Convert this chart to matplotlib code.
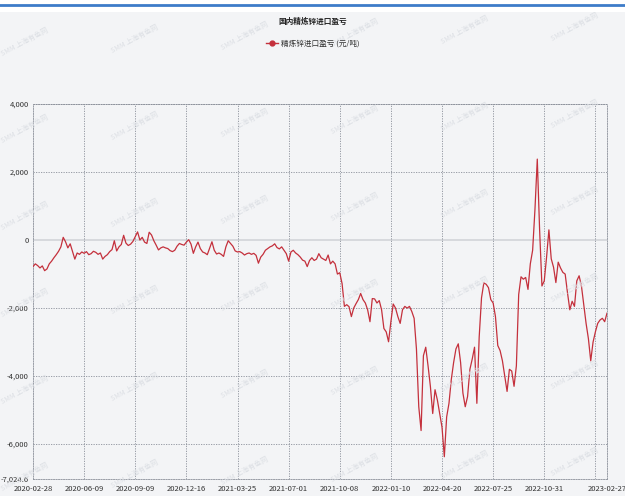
import matplotlib.pyplot as plt
from matplotlib.lines import Line2D
from matplotlib.patches import Rectangle

plt.rcParams['font.family'] = ['Noto Sans CJK SC', 'DejaVu Sans']

# 进口盈亏 (元/吨), one value every ~3 trading days
profit = [
    -780, -700, -750, -820, -760, -900, -850, -700, -620, -520,
    -430, -330, -200, 80, -50, -230, -110, -330, -560, -380,
    -420, -350, -390, -340, -430, -400, -330, -360, -420, -380,
    -560, -480, -430, -340, -280, -20, -320, -200, -130, 140,
    -90, -160, -120, -40, 100, 240, 0, 80, -60, -100,
    230, 150, -20, -150, -290, -230, -200, -230, -250, -310,
    -340, -300, -180, -100, -130, -150, -60, 10, -120, -390,
    -200, -60, -250, -350, -380, -430, -240, -50, -300, -410,
    -380, -420, -480, -200, -20, -100, -180, -320, -350, -340,
    -380, -440, -400, -380, -420, -390, -450, -680, -500, -420,
    -300, -250, -200, -170, -110, -220, -260, -200, -300, -400,
    -620, -350, -300, -380, -430, -500, -590, -620, -780, -600,
    -520, -600, -560, -400, -520, -560, -600, -440, -700, -620,
    -700, -1000, -960, -1280, -1950, -1900, -1960, -2250, -2000, -1870,
    -1750, -1570, -1750, -1850, -2050, -2400, -1720, -1730, -1850, -1780,
    -2050, -2600, -2700, -2990, -2400, -1880, -2000, -2250, -2450, -2050,
    -1950, -2000, -1950, -2100, -2300, -3200, -4900, -5600, -3400, -3150,
    -3700, -4300, -5100, -4400, -4700, -5100, -5500, -6370, -5200, -4800,
    -4100, -3600, -3200, -3050, -3600, -4500, -4900, -4600, -3800, -3500,
    -3150, -4800, -2850, -1700, -1260, -1300, -1400, -1750, -1850, -2250,
    -3100, -3250, -3550, -4000, -4450, -3800, -3850, -4300, -3700, -1600,
    -1080, -1150, -1100, -1450, -700, -300, 900, 2380, 300, -1350,
    -1200, -500, 300, -550, -800, -1250, -650, -820, -950, -1000,
    -1550, -2050, -1800, -1950, -1200, -1050, -1350, -1900, -2450, -2900,
    -3550, -3000, -2700, -2450, -2350, -2300, -2400, -2150,
]

date_labels = ['2020-02-28', '2020-06-09', '2020-09-09', '2020-12-16', '2021-03-25',
               '2021-07-01', '2021-10-08', '2022-01-10', '2022-04-20', '2022-07-25',
               '2022-10-31']
last_label = '2023-02-27'
y_ticks = [4000, 2000, 0, -2000, -4000, -6000, -7024.6]
y_labels = ['4,000', '2,000', '0', '-2,000', '-4,000', '-6,000', '-7,024.6']

W, H = 625, 496
bg = '#f3f4f6'
red = '#c4303c'
grid_c = '#8a8f99'

fig = plt.figure(figsize=(W / 100, H / 100), dpi=100)
fig.patch.set_facecolor(bg)

# white header strip with blue rule
fig.add_artist(Rectangle((0, 1 - 12 / H), 1, 12 / H, transform=fig.transFigure,
                         facecolor='white', edgecolor='none'))
fig.add_artist(Line2D([0, 1], [1 - 5 / H, 1 - 5 / H], transform=fig.transFigure,
                      color='#3d7cc9', linewidth=2))

ax = fig.add_axes([33 / W, 1 - 479 / H, 574 / W, 375 / H])
ax.set_facecolor(bg)

x = list(range(len(profit)))
step = 22
tick_pos = [i * step for i in range(len(date_labels))]

# grid lines
for yt in y_ticks[:-1]:
    if yt == 0:
        ax.axhline(0, color='#d2d4d8', linewidth=1.2, zorder=1)
    else:
        ax.axhline(yt, color=grid_c, linewidth=0.6, linestyle=(0, (1.5, 1.5)), zorder=1)
for xt in tick_pos[1:] + [len(date_labels) * step]:
    ax.axvline(xt, color=grid_c, linewidth=0.6, linestyle=(0, (1.5, 1.5)), zorder=1)

ax.plot(x, profit, color=red, linewidth=0.9, zorder=3, label='精炼锌进口盈亏 (元/吨)')

ax.set_xlim(0, len(profit) - 1)
ax.set_ylim(-7024.6, 4000)
ax.set_xticks(tick_pos + [len(profit) - 1])
ax.set_xticklabels(date_labels + [last_label])
ax.set_yticks(y_ticks)
ax.set_yticklabels(y_labels)
ax.tick_params(length=0, labelsize=5.5, colors='#333333')
ax.tick_params(axis='x', pad=4)
ax.tick_params(axis='y', pad=3)

for s in ax.spines.values():
    s.set_color(grid_c)
    s.set_linewidth(0.6)
    s.set_linestyle((0, (1.5, 1.5)))

# watermarks
for row in range(6):
    for col in range(6):
        wx = 25 + col * 110
        wy = 42 + row * 87 - col * 3
        fig.text(wx / W, 1 - wy / H, 'SMM 上海有色网', fontsize=5, color='#dcdfe4',
                 rotation=28, ha='center', va='center', zorder=0)

fig.text(0.5, 1 - 21 / H, '国内精炼锌进口盈亏', ha='center', va='center',
         fontsize=5.5, fontweight='bold', color='#222222')
handle = Line2D([], [], color=red, linewidth=1, marker='o', markersize=3.5)
fig.legend([handle], ['精炼锌进口盈亏 (元/吨)'], loc='center',
           bbox_to_anchor=(0.5, 1 - 44 / H), frameon=False, fontsize=5.5,
           handlelength=1.6, handletextpad=0.4, labelcolor='#333333')

fig.savefig('out.png', dpi=100, facecolor=bg)
